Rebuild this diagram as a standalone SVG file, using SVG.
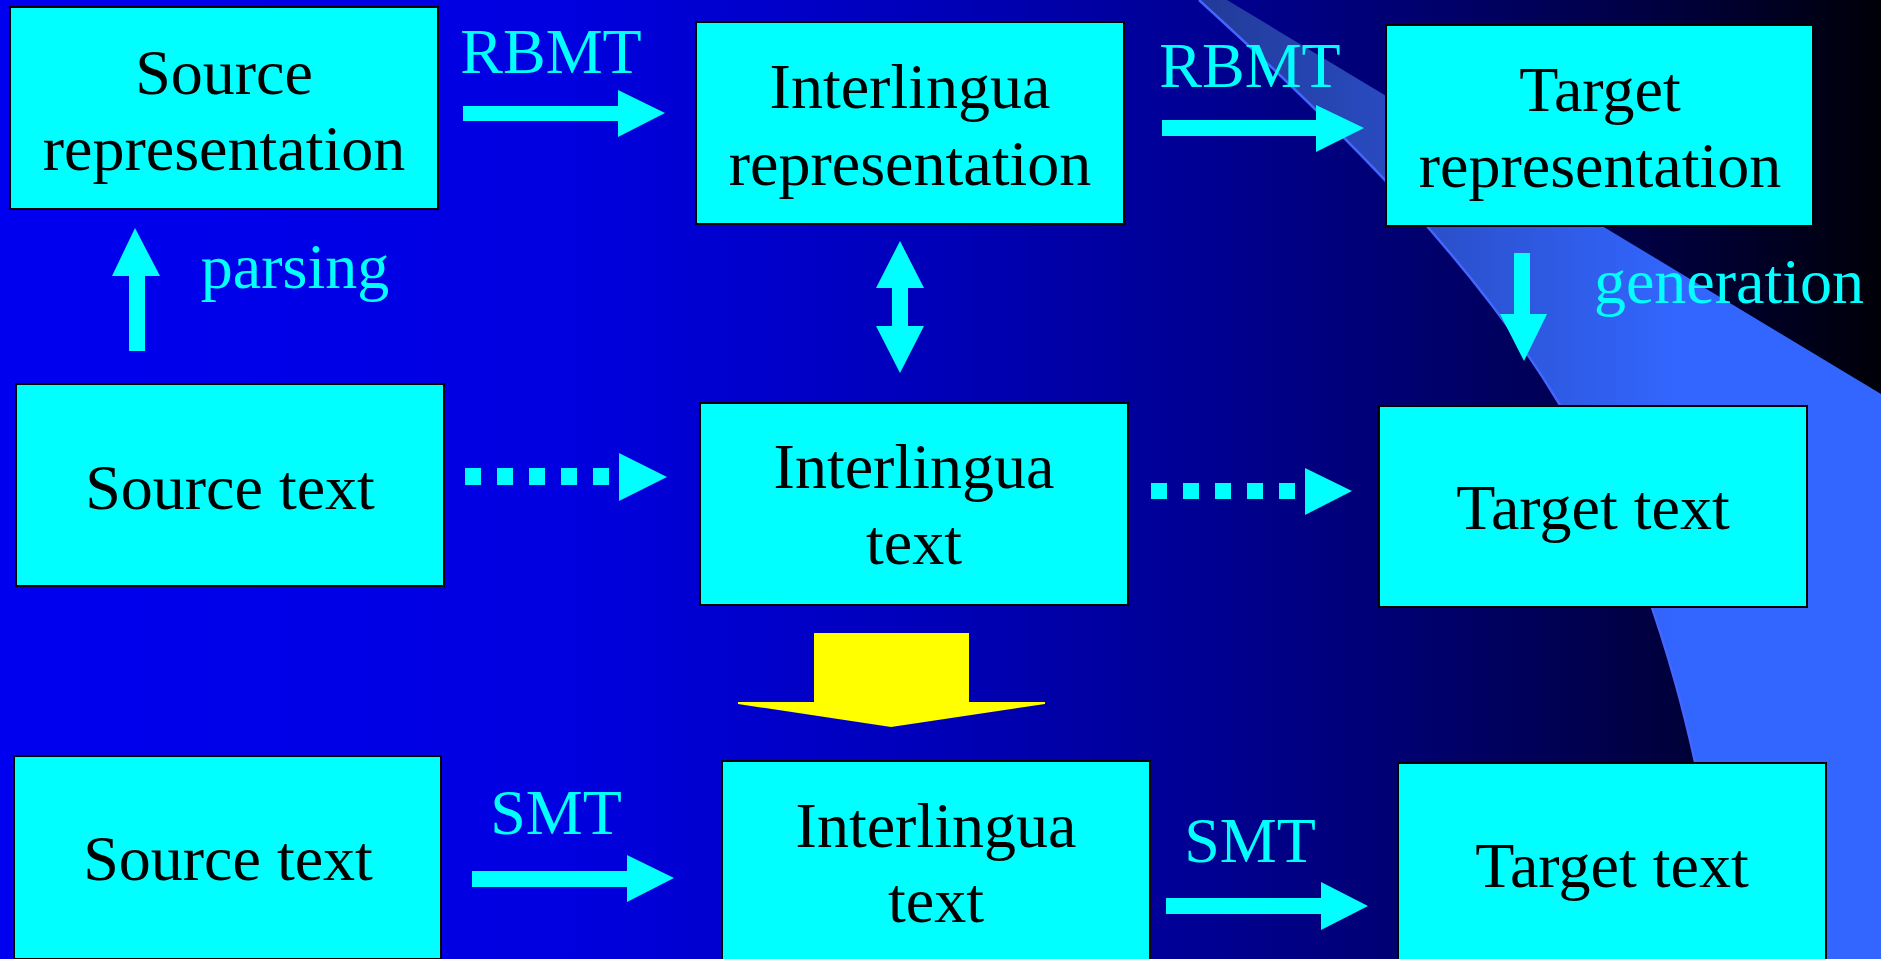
<svg xmlns="http://www.w3.org/2000/svg" width="1881" height="959" viewBox="0 0 1881 959">
  <defs>
    <linearGradient id="bg" x1="0" y1="0" x2="1881" y2="0" gradientUnits="userSpaceOnUse">
      <stop offset="0" stop-color="#0000f0"/>
      <stop offset="0.3" stop-color="#0000e0"/>
      <stop offset="0.5" stop-color="#0000b8"/>
      <stop offset="0.65" stop-color="#000090"/>
      <stop offset="0.75" stop-color="#000070"/>
      <stop offset="0.87" stop-color="#000045"/>
      <stop offset="1" stop-color="#000008"/>
    </linearGradient>
    <linearGradient id="swoosh" x1="1200" y1="0" x2="1680" y2="0" gradientUnits="userSpaceOnUse">
      <stop offset="0" stop-color="#223a98"/>
      <stop offset="1" stop-color="#3366ff"/>
    </linearGradient>
    <style>
      .box { fill: #00ffff; stroke: #000000; stroke-width: 2; }
      .label { font-family: "Liberation Serif", "Times New Roman", serif; font-size: 64px; fill: #000000; text-anchor: middle; }
      .tag { font-family: "Liberation Serif", "Times New Roman", serif; font-size: 64px; fill: #00ffff; text-anchor: middle; }
      .flow { fill: #00ffff; }
      .big { fill: #ffff00; }
    </style>
  </defs>

  <!-- backdrop -->
  <rect x="0" y="0" width="1881" height="959" fill="url(#bg)"/>
  <path d="M1199,0 C1353,140 1476,265 1560,405 C1665,585 1706,779 1728,959 L1881,959 L1881,394 L1227,0 Z" fill="url(#swoosh)"/>
  <path d="M1199,0 C1353,140 1476,265 1560,405 C1665,585 1706,779 1728,959" fill="none" stroke="#4466ff" stroke-width="2.5"/>

  <!-- connectors -->
  <g id="connectors">
    <path id="rbmt-1" class="flow" d="M463,106 H618 V90 L665,113 L618,137 V121 H463 Z"/>
    <path id="rbmt-2" class="flow" d="M1162,120 H1316 V105 L1364,128 L1316,152 V136 H1162 Z"/>
    <path id="parsing" class="flow" d="M129,351 V276 H112 L135,228 L160,276 H145 V351 Z"/>
    <path id="generation" class="flow" d="M1514,253 H1530 V314 H1547 L1524,361 L1500,314 H1514 Z"/>
    <path id="il-link" class="flow" d="M900,241 L924,288 H908 V326 H924 L900,373 L876,326 H892 V288 H876 Z"/>
    <g id="dotted-1" class="flow">
      <rect x="465" y="468" width="16" height="17"/>
      <rect x="497" y="468" width="16" height="17"/>
      <rect x="529" y="468" width="16" height="17"/>
      <rect x="561" y="468" width="16" height="17"/>
      <rect x="593" y="468" width="16" height="17"/>
      <polygon points="619,453 667,477 619,501"/>
    </g>
    <g id="dotted-2" class="flow">
      <rect x="1151" y="483" width="16" height="16"/>
      <rect x="1183" y="483" width="16" height="16"/>
      <rect x="1215" y="483" width="16" height="16"/>
      <rect x="1247" y="483" width="16" height="16"/>
      <rect x="1279" y="483" width="16" height="16"/>
      <polygon points="1305,468 1352,491 1305,515"/>
    </g>
    <path id="to-smt" class="big" d="M814,633 H969 V702 H1045 L1045,704 L891,727 L738,704 L738,702 H814 Z"/>
    <path id="smt-1" class="flow" d="M472,871 H627 V855 L674,878 L627,902 V887 H472 Z"/>
    <path id="smt-2" class="flow" d="M1166,898 H1321 V882 L1368,906 L1321,930 V914 H1166 Z"/>
    <text class="tag" x="551" y="73">RBMT</text>
    <text class="tag" x="1250" y="87">RBMT</text>
    <text class="tag" x="295" y="288">parsing</text>
    <text class="tag" x="1729" y="303">generation</text>
    <text class="tag" x="556" y="834">SMT</text>
    <text class="tag" x="1250" y="862">SMT</text>
  </g>

  <!-- nodes -->
  <g id="source-representation">
    <rect class="box" x="10" y="7" width="428" height="202"/>
    <text class="label" x="224" y="94">Source</text>
    <text class="label" x="224" y="170">representation</text>
  </g>
  <g id="interlingua-representation">
    <rect class="box" x="696" y="22" width="428" height="202"/>
    <text class="label" x="910" y="108">Interlingua</text>
    <text class="label" x="910" y="185">representation</text>
  </g>
  <g id="target-representation">
    <rect class="box" x="1386" y="25" width="427" height="201"/>
    <text class="label" x="1600" y="111">Target</text>
    <text class="label" x="1600" y="187">representation</text>
  </g>
  <g id="source-text-rbmt">
    <rect class="box" x="16" y="384" width="428" height="202"/>
    <text class="label" x="230" y="509">Source text</text>
  </g>
  <g id="interlingua-text-rbmt">
    <rect class="box" x="700" y="403" width="428" height="202"/>
    <text class="label" x="914" y="488">Interlingua</text>
    <text class="label" x="914" y="564">text</text>
  </g>
  <g id="target-text-rbmt">
    <rect class="box" x="1379" y="406" width="428" height="201"/>
    <text class="label" x="1593" y="529">Target text</text>
  </g>
  <g id="source-text-smt">
    <rect class="box" x="14" y="756" width="427" height="203"/>
    <text class="label" x="228" y="880">Source text</text>
  </g>
  <g id="interlingua-text-smt">
    <rect class="box" x="722" y="761" width="428" height="202"/>
    <text class="label" x="936" y="847">Interlingua</text>
    <text class="label" x="936" y="922">text</text>
  </g>
  <g id="target-text-smt">
    <rect class="box" x="1398" y="763" width="428" height="202"/>
    <text class="label" x="1612" y="887">Target text</text>
  </g>
</svg>
